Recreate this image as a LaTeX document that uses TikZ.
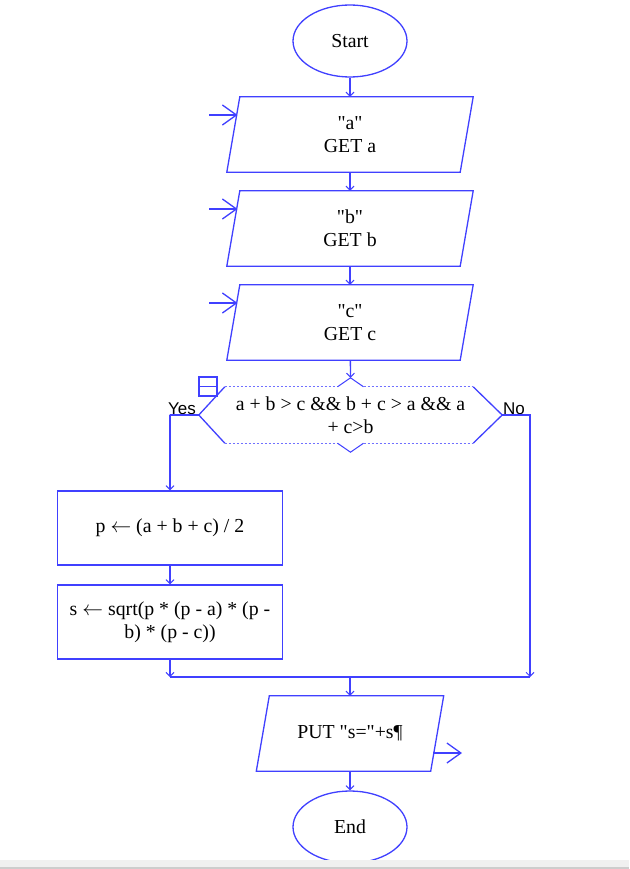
\documentclass[tikz,border=0pt]{standalone}
\usepackage{fontspec}
\setmainfont{Liberation Serif}[Ligatures=TeXOff]
\newfontfamily\lblfont{Liberation Sans}
\usetikzlibrary{arrows.meta,shapes.geometric}
\definecolor{fc}{RGB}{64,64,255}
\definecolor{bandgray}{RGB}{240,240,240}
\definecolor{bandline}{RGB}{205,205,205}
\newcommand\dq{\char34\relax}
\begin{document}
\begin{tikzpicture}[x=1pt,y=-1pt,
  ln/.style={draw=fc,line width=1.3pt},
  dotline/.style={draw=fc!75,line width=0.9pt,dash pattern=on 2pt off 2pt},
  conn/.style={draw=fc,line width=1.3pt,-{Straight Barb[length=4pt,width=8pt,line width=1pt]}},
  ioarr/.style={draw=fc,line width=1.3pt,-{Straight Barb[length=14pt,width=20pt,line width=1.3pt]}},
  txt/.style={font=\fontsize{19.8}{23}\selectfont,align=center,inner sep=0pt},
  term/.style={txt,ellipse,draw=fc,line width=1.3pt,minimum width=114pt,minimum height=72pt},
  io/.style={txt,minimum width=246pt,minimum height=75pt},
  proc/.style={txt,draw=fc,line width=1.3pt,minimum width=225pt,minimum height=74pt},
  lbl/.style={font=\lblfont\fontsize{17}{19}\selectfont,inner sep=0pt},
]
\fill[white] (0,0) rectangle (629,869);
\useasboundingbox (0,0) rectangle (629,869);

% terminals
\node[term] (start) at (350,41) {Start};
\node[term] (end) at (350,827) {End};

% input parallelograms
\node[io] (pa) at (350,134.5) {\dq a\dq\\GET a};
\node[io] (pb) at (350,228.5) {\dq b\dq\\GET b};
\node[io] (pc) at (350,322.5) {\dq c\dq\\GET c};
\foreach \n in {pa,pb,pc}{
  \draw[ln] ([xshift=13pt]\n.north west) -- (\n.north east) -- ([xshift=-13pt]\n.south east) -- (\n.south west) -- cycle;
}

% decision
\node[txt,minimum width=303pt,minimum height=56pt] (dec) at (350.5,415) {a + b > c \&\& b + c > a \&\& a\\+ c>b};
\coordinate (dectop) at ([yshift=9pt]dec.north);
\coordinate (decbot) at ([yshift=-9pt]dec.south);
\draw[ln] ([xshift=26pt]dec.north west) -- (dec.west) -- ([xshift=26pt]dec.south west);
\draw[ln] ([xshift=-29pt]dec.north east) -- (dec.east) -- ([xshift=-29pt]dec.south east);
\draw[dotline] ([xshift=26pt]dec.north west) -- ([xshift=-13pt]dec.north);
\draw[dotline] ([xshift=13pt]dec.north) -- ([xshift=-29pt]dec.north east);
\draw[dotline] ([xshift=26pt]dec.south west) -- ([xshift=-13pt]dec.south);
\draw[dotline] ([xshift=13pt]dec.south) -- ([xshift=-29pt]dec.south east);
\draw[ln,line width=1pt] ([xshift=-13pt]dec.north) -- (dectop) -- ([xshift=13pt]dec.north);
\draw[ln,line width=1pt] ([xshift=-13pt]dec.south) -- (decbot) -- ([xshift=13pt]dec.south);
\node[draw=fc,line width=1.2pt,minimum width=18pt,minimum height=19pt,inner sep=0pt] (icon) at (208,386.5) {};
\draw[ln,line width=1.2pt] (icon.west) -- (icon.east);
\node[lbl,anchor=south east] (yes) at (196,415) {Yes};
\node[lbl,anchor=south west] (no) at (503,415) {No};

% process boxes
\node[proc] (pbox) at (170,528) {p $\leftarrow$ (a + b + c) / 2};
\node[proc] (sbox) at (170,622) {s $\leftarrow$ sqrt(p * (p - a) * (p -\\b) * (p - c))};

% output
\node[txt,minimum width=187pt,minimum height=75pt] (put) at (350,733.5) {PUT \dq s=\dq+s¶};
\draw[ln] ([xshift=13pt]put.north west) -- (put.north east) -- ([xshift=-13pt]put.south east) -- (put.south west) -- cycle;

% join coordinates
\coordinate (jl) at (170,677);
\coordinate (jr) at (530,677);
\coordinate (jm) at (350,677);

% connectors
\draw[conn] (start) -- (pa);
\draw[conn] (pa) -- (pb);
\draw[conn] (pb) -- (pc);
\draw[conn] (pc) -- (dectop);
\draw[conn] (dec.west) -- ++(-29,0) -| (pbox.north);
\draw[conn] (pbox) -- (sbox);
\draw[conn] (sbox) -- (jl);
\draw[conn] (dec.east) -| (jr);
\draw[ln] (jl) -- (jr);
\draw[conn] (jm) -- (put);
\draw[conn] (put) -- (end);

% input / output arrows
\coordinate (ina) at (209,115);
\coordinate (inb) at (209,209);
\coordinate (inc) at (209,303);
\draw[ioarr] (ina) -- ++(28.5,0);
\draw[ioarr] (inb) -- ++(28.5,0);
\draw[ioarr] (inc) -- ++(28.5,0);
\coordinate (outa) at (433,753);
\draw[ioarr] (outa) -- ++(29,0);

% bottom band
\fill[bandgray] (0,860) rectangle (629,869);
\draw[bandline,line width=1.5pt] (0,868.2) -- (629,868.2);
\end{tikzpicture}
\end{document}
